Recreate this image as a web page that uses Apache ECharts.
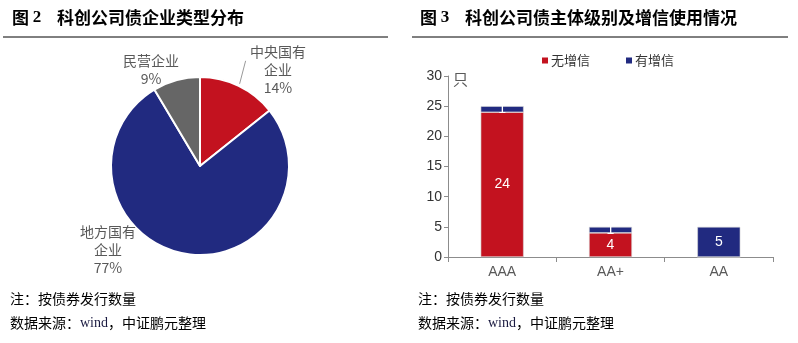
<!DOCTYPE html>
<html>
<head>
<meta charset="utf-8">
<script src="https://cdn.jsdelivr.net/npm/echarts@6/dist/echarts.min.js"></script>
<style>
  html, body { margin: 0; padding: 0; background: #fff; }
  #chart { width: 798px; height: 343px; }
</style>
</head>
<body>
<div id="chart"></div>
<script>
// 企业类型（债券发行只数）
const pieNames = ['中央国有\n企业', '地方国有\n企业', '民营企业'];
const pieCounts = [5, 27, 3];
const pieColors = ['#C3121F', '#212A80', '#666666'];

// 主体级别与增信情况
const ratings = ['AAA', 'AA+', 'AA'];
const noEnhance = [24, 4, 0];
const withEnhance = [1, 1, 5];
const yTicks = [0, 5, 10, 15, 20, 25, 30];

const cjk = '"Noto Sans CJK SC", "Noto Sans", sans-serif';
const latin = '"Liberation Sans", Arial, sans-serif';
const serif = '"Liberation Serif", "DejaVu Serif", serif';

const chart = echarts.init(document.getElementById('chart'));

// label anchors for the pie (text block centre)
const pieLabelPos = [
  { x: 278, y: 70 },
  { x: 108, y: 250 },
  { x: 151, y: 70 }
];

const PIE_CX = 200, PIE_CY = 166, PIE_R = 89;

function titleText(xFig, xTitle, num, text) {
  return [
    { type: 'text', left: xFig, top: 9,
      style: {
        text: '{a|图 }{n|' + num + '}',
        rich: {
          a: { fontFamily: cjk, fontWeight: 'bold', fontSize: 17, fill: '#000' },
          n: { fontFamily: serif, fontWeight: 'bold', fontSize: 17, fill: '#000' }
        }
      } },
    { type: 'text', left: xTitle, top: 9,
      style: { text: text, fontFamily: cjk, fontWeight: 'bold', fontSize: 17, fill: '#000' } }
  ];
}

function noteText(x) {
  return [
    { type: 'text', left: x, top: 292,
      style: { text: '注：按债券发行数量', fontFamily: cjk, fontSize: 14, fill: '#000' } },
    { type: 'text', left: x, top: 316,
      style: {
        text: '{c|数据来源：}{w|wind}{c|，中证鹏元整理}',
        rich: {
          c: { fontFamily: cjk, fontSize: 14, fill: '#000' },
          w: { fontFamily: serif, fontSize: 14, fill: '#1a1a40' }
        }
      } }
  ];
}

// leader line for the 中央国有企业 slice, from the slice edge up toward its label
const total = pieCounts.reduce((a, b) => a + b, 0);
const midAngle = (pieCounts[0] / total) * Math.PI; // centre angle of first slice, clockwise from top
const edgeX = PIE_CX + PIE_R * Math.sin(midAngle);
const edgeY = PIE_CY - PIE_R * Math.cos(midAngle);
const leader = { x1: edgeX + 1, y1: edgeY - 2, x2: edgeX + 7, y2: edgeY - 25 };

chart.setOption({
  animation: false,
  graphic: [
    ...titleText(12, 57, '2', '科创公司债企业类型分布'),
    ...titleText(420, 465, '3', '科创公司债主体级别及增信使用情况'),
    { type: 'line', shape: { x1: 3, y1: 37, x2: 388, y2: 37 }, style: { stroke: '#000', lineWidth: 1 } },
    { type: 'line', shape: { x1: 412, y1: 37, x2: 788, y2: 37 }, style: { stroke: '#000', lineWidth: 1 } },
    ...noteText(10),
    ...noteText(418),
    { type: 'text', left: 453, top: 72,
      style: { text: '只', fontFamily: cjk, fontSize: 15, fill: '#595959' } },
    { type: 'line', shape: leader, style: { stroke: '#999', lineWidth: 1 } }
  ],
  legend: {
    data: ['无增信', '有增信'],
    left: 537, top: 49,
    itemWidth: 6, itemHeight: 6, itemGap: 36,
    icon: 'rect',
    itemStyle: { borderWidth: 0 },
    textStyle: { fontFamily: cjk, fontSize: 13, color: '#333', padding: [0, 0, 0, -2] }
  },
  grid: { left: 448, right: 25, top: 76, bottom: 86 },
  xAxis: {
    type: 'category',
    data: ratings,
    axisLine: { lineStyle: { color: '#8c8c8c' } },
    axisTick: { show: true, length: 5, lineStyle: { color: '#8c8c8c' } },
    axisLabel: { fontFamily: latin, fontSize: 14, color: '#595959', margin: 8 }
  },
  yAxis: {
    type: 'value', min: yTicks[0], max: yTicks[yTicks.length - 1], interval: 5,
    axisLine: { show: true, lineStyle: { color: '#8c8c8c' } },
    axisTick: { show: true, length: 4, lineStyle: { color: '#8c8c8c' } },
    splitLine: { show: false },
    axisLabel: { fontFamily: latin, fontSize: 14, color: '#333', margin: 6 }
  },
  series: [
    {
      type: 'pie',
      center: [PIE_CX, PIE_CY],
      radius: PIE_R,
      startAngle: 90,
      clockwise: true,
      percentPrecision: 0,
      itemStyle: { borderColor: '#fff', borderWidth: 2 },
      label: {
        show: true,
        formatter: '{b}\n{d}%',
        fontFamily: cjk, fontSize: 14, lineHeight: 18, color: '#595959',
        align: 'center'
      },
      labelLine: { show: false },
      labelLayout: function (p) {
        const pos = pieLabelPos[p.dataIndex];
        return { x: pos.x, y: pos.y, align: 'center', verticalAlign: 'middle' };
      },
      data: pieNames.map((n, i) => ({
        name: n, value: pieCounts[i], itemStyle: { color: pieColors[i] }
      }))
    },
    {
      name: '无增信', type: 'bar', stack: 'r', barWidth: 43,
      itemStyle: { color: '#C3121F', borderColor: '#d9d9d9', borderWidth: 0.6 },
      label: {
        show: true, position: 'inside', color: '#fff', fontFamily: latin, fontSize: 14,
        formatter: p => (p.value > 0 ? p.value : '')
      },
      data: noEnhance
    },
    {
      name: '有增信', type: 'bar', stack: 'r', barWidth: 43,
      itemStyle: { color: '#212A80', borderColor: '#d9d9d9', borderWidth: 0.6 },
      label: {
        show: true, position: 'inside', color: '#fff', fontFamily: latin, fontSize: 14,
        formatter: p => (p.value > 0 ? p.value : '')
      },
      data: withEnhance
    }
  ]
});
</script>
</body>
</html>
